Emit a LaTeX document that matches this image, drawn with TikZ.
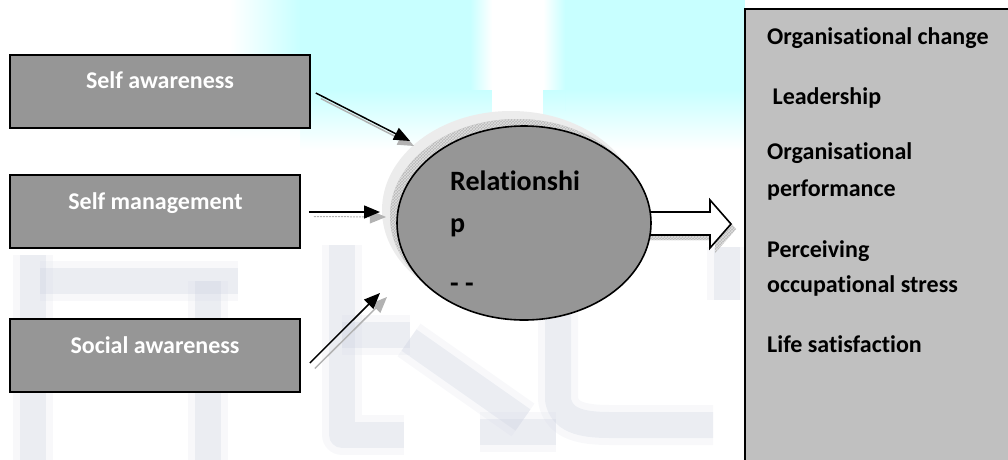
\documentclass[tikz,border=0pt]{standalone}
\usepackage{fontspec}
\setmainfont{Carlito}[Ligatures=CommonOff]
\usetikzlibrary{shapes.geometric,arrows.meta,patterns,calc}

\definecolor{boxgray}{RGB}{150,150,150}
\definecolor{panelgray}{RGB}{192,192,192}
\definecolor{wash}{RGB}{200,255,255}
\definecolor{ghost}{RGB}{206,210,224}

\begin{document}
\begin{tikzpicture}[x=1pt,y=-1pt,
  factor/.style={draw=black,line width=1.6pt,fill=boxgray,inner sep=0pt,minimum height=73pt},
  factortext/.style={anchor=base,text=white,font=\fontsize{24}{28}\selectfont\bfseries,inner sep=0pt},
  outcome/.style={anchor=base west,font=\fontsize{24}{28}\selectfont\bfseries,inner sep=0pt},
  reltext/.style={anchor=base west,font=\fontsize{28}{32}\selectfont\bfseries,inner sep=0pt},
  feed/.style={line width=1.5pt,-{Triangle[length=16pt,width=13pt]}},
  feedshadow/.style={gray!60,line width=1.5pt,-{Triangle[length=16pt,width=13pt]}},
  stroke/.style={ghost,line width=40pt,opacity=0.15,line join=round},
  core/.style={ghost,line width=26pt,opacity=0.3,line join=round},
]
\useasboundingbox (0,0) rectangle (1008,459);
\clip (0,0) rectangle (1008,459);

% pale cyan wash across the top
\fill[wash] (300,0) rectangle (745,90);
\shade[top color=wash,bottom color=white] (300,90) rectangle (745,150);
\shade[left color=white,right color=wash] (230,0) rectangle (300,90);
\shade[top color=wash!50,bottom color=white] (230,90) rectangle (300,140);
\shade[left color=wash,right color=white] (470,0) rectangle (492,110);
\fill[white] (492,0) rectangle (543,150);
\shade[left color=white,right color=wash] (543,0) rectangle (565,110);
\shade[top color=wash,bottom color=white] (470,90) rectangle (565,150);
\fill[white] (492,90) rectangle (543,150);

% faint lettering in the background
\foreach \s in {stroke,core}{
  \draw[\s] (33,255) -- (33,470);
  \draw[\s] (40,281) -- (238,281);
  \draw[\s] (208,281) -- (208,470);
  \draw[\s] (342,245) -- (342,435) -- (404,435);
  \draw[\s] (342,335) -- (410,335);
  \draw[\s] (409,340) -- (523,420);
  \draw[\s] (480,432) -- (556,432);
  \draw[\s] (558,313) -- (558,400) .. controls (562,420) and (580,425) .. (610,425) -- (713,425);
  \draw[\s] (727,247) -- (727,300);
}

% output panel
\fill[panelgray] (745,9) rectangle (1020,470);
\draw[line width=1.6pt] (745,470) -- (745,9) -- (1020,9);

% factor boxes
\node[factor,minimum width=300pt] (b1) at (160,91.5) {};
\node[factor,minimum width=290pt] (b2) at (155,211.5) {};
\node[factor,minimum width=290pt] (b3) at (155,355.5) {};
\node[factortext] (l1) at (160,88) {Self awareness};
\node[factortext] (l2) at (155.5,209) {Self management};
\node[factortext] (l3) at (155,353) {Social awareness};

% arrow tips near the ellipse
\coordinate (t1) at (410,141);
\coordinate (t2) at (380,212);
\coordinate (t3) at (380,293);

% block arrow with its hatched shadow
\fill[gray!55] (645,217) -- (715,217) -- (715,205) -- (736,229) -- (715,253) -- (715,240) -- (645,240) -- cycle;
\fill[pattern=crosshatch,pattern color=gray!25] (645,217) -- (715,217) -- (715,205) -- (736,229) -- (715,253) -- (715,240) -- (645,240) -- cycle;
\draw[line width=1.6pt,fill=white,line join=miter] (640,212) -- (710,212) -- (710,200) -- (731,224) -- (710,248) -- (710,235) -- (640,235) -- cycle;

% ellipse with its shadow
\fill[gray!15] (511,210) ellipse [x radius=129,y radius=99];
\fill[gray!55] (517,216) ellipse [x radius=127,y radius=97];
\fill[pattern=crosshatch,pattern color=gray!25] (517,216) ellipse [x radius=127,y radius=97];
\node[ellipse,draw=black,line width=1.6pt,fill=boxgray,inner sep=0pt,minimum width=254pt,minimum height=194pt] (rel) at (524,223) {};
\node[reltext] (r1) at (450,190) {Relationshi};
\node[reltext] (r2) at (450,232) {p};
\node[reltext] (r3) at (450,292) {- -};

% input arrows and their shadows
\draw[feedshadow] ([shift={(10,7)}]b1.east) -- ([shift={(4,5)}]t1);
\draw[feedshadow,dash pattern=on 2pt off 1pt,line width=1pt] ([shift={(13,5)}]b2.east) -- ([shift={(6,5)}]t2);
\draw[feedshadow] ([shift={(14,13)}]b3.east) -- ([shift={(7,4)}]t3);
\draw[feed] ([shift={(5,1.5)}]b1.east) -- (t1);
\draw[feed] ([shift={(8,0.5)}]b2.east) -- (t2);
\draw[feed] ([shift={(9,7.5)}]b3.east) -- (t3);

% outcome list
\node[outcome] (o1) at (767,44) {Organisational change};
\node[outcome] (o2) at (767,104) {\ Leadership};
\node[outcome] (o3) at (767,159) {Organisational};
\node[outcome] (o4) at (767,196) {performance};
\node[outcome] (o5) at (767,257) {Perceiving};
\node[outcome] (o6) at (767,292) {occupational stress};
\node[outcome] (o7) at (767,352) {Life satisfaction};
\end{tikzpicture}
\end{document}
